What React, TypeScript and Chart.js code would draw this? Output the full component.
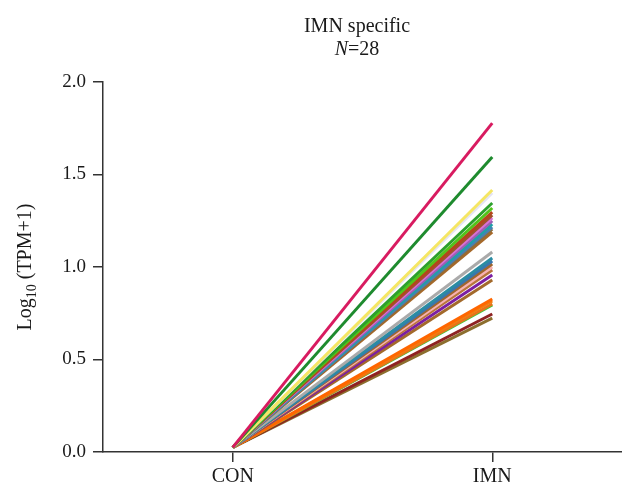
import React, { useEffect, useRef } from "react";
import { Chart, registerables } from "chart.js";

Chart.register(...registerables);

const categories = ["CON", "IMN"];
const geneIds = [
  "g1", "g2", "g3", "g4", "g5", "g6", "g7", "g8", "g9", "g10",
  "g11", "g12", "g13", "g14", "g15", "g16", "g17", "g18", "g19", "g20",
  "g21", "g22", "g23", "g24", "g25", "g26", "g27", "g28",
];
const conValues = [
  0.025, 0.025, 0.025, 0.025, 0.025, 0.025, 0.025, 0.025, 0.025, 0.025,
  0.025, 0.025, 0.025, 0.025, 0.025, 0.025, 0.025, 0.025, 0.025, 0.025,
  0.025, 0.025, 0.025, 0.025, 0.025, 0.025, 0.025, 0.025,
];
const imnValues = [
  1.778, 1.595, 1.416, 1.4, 1.346, 1.319, 1.297, 1.281, 1.265, 1.249,
  1.232, 1.216, 1.205, 1.189, 1.081, 1.049, 1.032, 1.016, 1.0, 0.984,
  0.957, 0.93, 0.827, 0.816, 0.8, 0.795, 0.746, 0.724,
];
const lineColors = [
  "#D81B60", "#1E8B2E", "#F5E663", "#E4E4F4", "#2CA02C", "#52C41A", "#B5451B", "#A0522D", "#DA70D6", "#9C5FB5",
  "#1FA0A8", "#4682B4", "#8C6D3F", "#A6692A", "#AAAAAA", "#2B8CA3", "#3A76AF", "#A0662E", "#F7B2B2", "#B8743A",
  "#7B1FA2", "#A36A2C", "#FF6600", "#F27D10", "#E8731A", "#3CC93C", "#8E2222", "#8C6E2E",
];
const yTicks = [0, 0.5, 1.0, 1.5, 2.0];
const titleLine1 = "IMN specific";
const titleN = "N";
const titleRest = "=28";

const SERIF = "'Liberation Serif', 'Times New Roman', serif";

const textPlugin = {
  id: "customText",
  afterDraw(chart: any) {
    const ctx = chart.ctx as CanvasRenderingContext2D;
    ctx.save();
    ctx.fillStyle = "#1a1a1a";
    // Title
    ctx.textBaseline = "alphabetic";
    ctx.textAlign = "center";
    ctx.font = `20px ${SERIF}`;
    const cx = 357;
    ctx.fillText(titleLine1, cx, 32);
    ctx.font = `italic 20px ${SERIF}`;
    const wN = ctx.measureText(titleN).width;
    ctx.font = `20px ${SERIF}`;
    const wR = ctx.measureText(titleRest).width;
    const start = cx - (wN + wR) / 2;
    ctx.textAlign = "left";
    ctx.font = `italic 20px ${SERIF}`;
    ctx.fillText(titleN, start, 55);
    ctx.font = `20px ${SERIF}`;
    ctx.fillText(titleRest, start + wN, 55);

    // Y axis title: Log10 (TPM+1)
    const area = chart.chartArea;
    const cy = (area.top + area.bottom) / 2;
    ctx.translate(31, cy);
    ctx.rotate(-Math.PI / 2);
    ctx.font = `20px ${SERIF}`;
    const p1 = "Log";
    const p3 = " (TPM+1)";
    const w1 = ctx.measureText(p1).width;
    const w3 = ctx.measureText(p3).width;
    ctx.font = `14px ${SERIF}`;
    const p2 = "10";
    const w2 = ctx.measureText(p2).width;
    let x = -(w1 + w2 + w3) / 2;
    ctx.textAlign = "left";
    ctx.font = `20px ${SERIF}`;
    ctx.fillText(p1, x, 0);
    x += w1;
    ctx.font = `14px ${SERIF}`;
    ctx.fillText(p2, x, 5);
    x += w2;
    ctx.font = `20px ${SERIF}`;
    ctx.fillText(p3, x, 0);
    ctx.restore();
  },
};

export default function App() {
  const canvasRef = useRef<HTMLCanvasElement | null>(null);

  useEffect(() => {
    if (!canvasRef.current) return;
    const datasets = geneIds.map((id, i) => ({
      label: id,
      data: [conValues[i], imnValues[i]],
      borderColor: lineColors[i],
      backgroundColor: lineColors[i],
      borderWidth: 3,
      pointRadius: 0,
      tension: 0,
      fill: false,
      order: i,
    }));
    const chart = new Chart(canvasRef.current, {
      type: "line",
      data: { labels: categories, datasets },
      options: {
        animation: false,
        responsive: true,
        maintainAspectRatio: false,
        layout: { padding: { top: 82, left: 0, right: 0, bottom: 0 } },
        plugins: {
          legend: { display: false },
          title: { display: false },
          tooltip: { enabled: false },
        },
        scales: {
          x: {
            type: "category",
            offset: true,
            grid: {
              display: true,
              drawOnChartArea: false,
              drawTicks: true,
              tickLength: 10,
              color: "#333",
              lineWidth: 1.5,
              offset: false,
            },
            border: { display: true, color: "#333", width: 1.5 },
            ticks: {
              color: "#1a1a1a",
              font: { family: SERIF, size: 20 },
              padding: 3,
            },
            afterFit: (scale: any) => {
              scale.height = 35;
            },
          },
          y: {
            min: 0,
            max: 2,
            afterBuildTicks: (scale: any) => {
              scale.ticks = yTicks.map((v) => ({ value: v }));
            },
            grid: {
              display: true,
              drawOnChartArea: false,
              drawTicks: true,
              tickLength: 10,
              color: "#333",
              lineWidth: 1.5,
            },
            border: { display: true, color: "#333", width: 1.5 },
            ticks: {
              color: "#1a1a1a",
              font: { family: SERIF, size: 19 },
              padding: 7,
              callback: (v: any) => Number(v).toFixed(1),
            },
            afterFit: (scale: any) => {
              scale.width = 103;
            },
          },
        },
      },
      plugins: [textPlugin],
    });
    return () => chart.destroy();
  }, []);

  return (
    <div style={{ position: "fixed", left: 0, top: 0, width: 622, height: 487, background: "#fff" }}>
      <canvas ref={canvasRef} />
    </div>
  );
}
